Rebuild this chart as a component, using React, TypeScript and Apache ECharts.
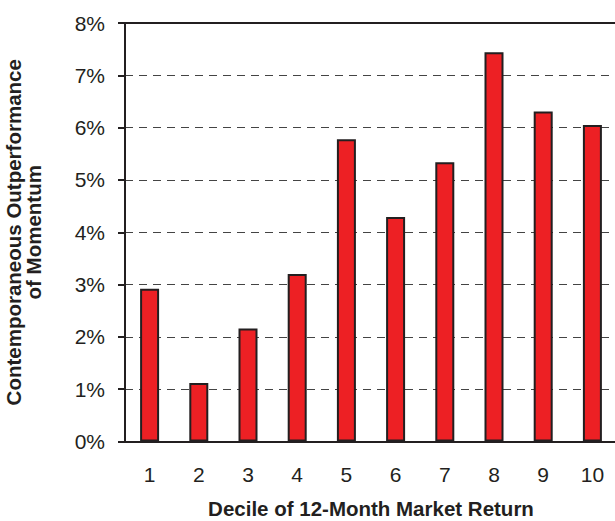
import React, { useEffect, useRef } from "react";
import * as echarts from "echarts";

const categories = ["1", "2", "3", "4", "5", "6", "7", "8", "9", "10"];
const outperformance = [2.92, 1.12, 2.16, 3.2, 5.78, 4.29, 5.34, 7.44, 6.31, 6.05];
const yTicks = { min: 0, max: 8, interval: 1 };

const FONT = "'Liberation Sans', Arial, Helvetica, sans-serif";

export default function App() {
  const ref = useRef<HTMLDivElement>(null);
  useEffect(() => {
    if (!ref.current) return;
    const chart = echarts.init(ref.current, undefined, { renderer: "svg" });
    chart.setOption({
      animation: false,
      backgroundColor: "#fff",
      grid: { left: 125, top: 23, bottom: 79.5, width: 492, containLabel: false, outerBoundsMode: "none" },
      xAxis: [
        {
          type: "category",
          data: categories,
          position: "bottom",
          axisLine: { show: true, lineStyle: { color: "#231f20", width: 2 } },
          axisTick: { show: false },
          axisLabel: { color: "#231f20", fontSize: 21, fontFamily: FONT, margin: 22 },
          name: "Decile of 12-Month Market Return",
          nameLocation: "middle",
          nameGap: 56,
          nameTextStyle: { color: "#231f20", fontSize: 20.5, fontWeight: "bold", fontFamily: FONT },
        },
        {
          type: "category",
          data: categories,
          position: "top",
          axisLine: { show: true, lineStyle: { color: "#231f20", width: 2 } },
          axisTick: { show: false },
          axisLabel: { show: false },
        },
      ],
      yAxis: {
        type: "value",
        min: yTicks.min,
        max: yTicks.max,
        interval: yTicks.interval,
        axisLine: { show: true, lineStyle: { color: "#231f20", width: 2 } },
        axisTick: { show: true, length: 7, lineStyle: { color: "#231f20", width: 2 } },
        axisLabel: { color: "#231f20", fontSize: 21, fontFamily: FONT, margin: 20, formatter: "{value}%" },
        splitLine: { show: true, lineStyle: { color: "#444", type: [8, 6], width: 1 } },
        name: "Contemporaneous Outperformance\nof Momentum",
        nameLocation: "middle",
        nameRotate: 90,
        nameGap: 82,
        nameTextStyle: { color: "#231f20", fontSize: 20.5, fontWeight: "bold", fontFamily: FONT, lineHeight: 20 },
      },
      series: [
        {
          type: "bar",
          data: outperformance,
          barWidth: 19,
          itemStyle: { color: "#ed2024", borderColor: "#231f20", borderWidth: 2 },
        },
      ],
    });
    return () => chart.dispose();
  }, []);
  return <div ref={ref} style={{ width: 615, height: 521, position: "absolute", left: 0, top: 0 }} />;
}
